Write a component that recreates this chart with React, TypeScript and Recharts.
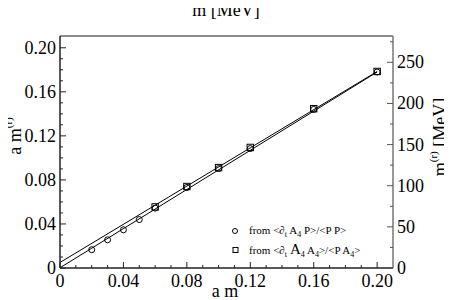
import { ScatterChart, Scatter, XAxis, YAxis } from "recharts";

// lattice mass a*m vs renormalised mass a*m^(r)
const amCircle = [0.02, 0.03, 0.04, 0.05, 0.06, 0.08, 0.1, 0.12, 0.16, 0.2];
const amrCircle = [0.0166, 0.0256, 0.0347, 0.044, 0.0544, 0.0732, 0.0903, 0.1085, 0.144, 0.178];
const amSquare = [0.06, 0.08, 0.1, 0.12, 0.16, 0.2];
const amrSquare = [0.0555, 0.074, 0.0912, 0.1095, 0.1447, 0.1785];

// straight-line fits, end points
const fitX = [0, 0.2];
const fitCircle = [0.0002, 0.178];
const fitSquare = [0.005, 0.1785];

const amTicks = [0, 0.04, 0.08, 0.12, 0.16, 0.2];
const amMinor = [0.01, 0.02, 0.03, 0.05, 0.06, 0.07, 0.09, 0.1, 0.11, 0.13, 0.14, 0.15, 0.17, 0.18, 0.19];
const mevTicks = [0, 50, 100, 150, 200, 250];
const mevMinor = [25, 75, 125, 175, 225, 275];

const W = 452;
const H = 300;
const PLOT = { left: 60, right: 393, top: 36, bottom: 268 };
const FONT = "'Liberation Serif', 'Times New Roman', serif";
const serif = { fontFamily: FONT };

const circles = amCircle.map((x, i) => ({ x, y: amrCircle[i] }));
const squares = amSquare.map((x, i) => ({ x, y: amrSquare[i] }));
const lineC = fitX.map((x, i) => ({ x, y: fitCircle[i] }));
const lineS = fitX.map((x, i) => ({ x, y: fitSquare[i] }));

const isMajor = (v: number, majors: number[]) => majors.some((m) => Math.abs(m - v) < 1e-9);
const fmtAm = (v: number) => (v === 0 ? "0" : v.toFixed(2));
const fmtMev = (v: number) => String(v);

function makeTick(side: "bottom" | "top" | "left" | "right", majors: number[], fmt: (v: number) => string, color: string) {
  return (props: any) => {
    const { x, y, payload } = props;
    const v = payload.value;
    const major = isMajor(v, majors);
    const len = major ? 6 : 3;
    let line;
    let label = null;
    const ts = { style: serif, fontSize: 18, fill: "#000" };
    if (side === "bottom") {
      line = <line x1={x} x2={x} y1={PLOT.bottom} y2={PLOT.bottom - len} stroke={color} />;
      if (major) label = <text x={x} y={PLOT.bottom + 19} textAnchor="middle" {...ts}>{fmt(v)}</text>;
    } else if (side === "top") {
      line = <line x1={x} x2={x} y1={PLOT.top} y2={PLOT.top + len} stroke={color} />;
      if (major) label = <text x={x} y={PLOT.top - 3} textAnchor="middle" {...ts}>{fmt(v)}</text>;
    } else if (side === "left") {
      line = <line x1={PLOT.left} x2={PLOT.left + len} y1={y} y2={y} stroke={color} />;
      if (major) label = <text x={PLOT.left - 4} y={y + 6} textAnchor="end" {...ts}>{fmt(v)}</text>;
    } else {
      line = <line x1={PLOT.right} x2={PLOT.right - len} y1={y} y2={y} stroke={color} />;
      if (major) label = <text x={PLOT.right + 4} y={y + 6} textAnchor="start" {...ts}>{fmt(v)}</text>;
    }
    return (
      <g>
        {line}
        {label}
      </g>
    );
  };
}

const CircleDot = (p: any) => <circle cx={p.cx} cy={p.cy} r={3} fill="none" stroke="#000" strokeWidth={1} />;
const SquareDot = (p: any) => (
  <rect x={p.cx - 3.2} y={p.cy - 3.2} width={6.4} height={6.4} fill="none" stroke="#000" strokeWidth={1} />
);
const NoDot = () => <g />;

export default function App() {
  return (
    <div style={{ position: "relative", width: W, height: H, marginLeft: -8, marginTop: -8 }}>
      <ScatterChart width={W} height={H} margin={{ top: 16, right: 19, bottom: 12, left: 20 }}>
        <XAxis
          xAxisId="b"
          dataKey="x"
          type="number"
          domain={[0, 0.21]}
          allowDataOverflow
          ticks={[...amTicks, ...amMinor]}
          interval={0}
          tickLine={false}
          tick={makeTick("bottom", amTicks, fmtAm, "#222")}
          axisLine={{ stroke: "#222", strokeWidth: 1.5 }}
          height={20}
        />
        <XAxis
          xAxisId="t"
          orientation="top"
          type="number"
          domain={[0, 278]}
          allowDataOverflow
          ticks={[...mevTicks, ...mevMinor]}
          interval={0}
          tickLine={false}
          tick={makeTick("top", mevTicks, fmtMev, "#555")}
          axisLine={{ stroke: "#666", strokeWidth: 1.5 }}
          height={20}
        />
        <YAxis
          yAxisId="l"
          dataKey="y"
          type="number"
          domain={[0, 0.2107]}
          allowDataOverflow
          ticks={[...amTicks, ...amMinor]}
          interval={0}
          tickLine={false}
          tick={makeTick("left", amTicks, fmtAm, "#222")}
          axisLine={{ stroke: "#222", strokeWidth: 1.5 }}
          width={40}
        />
        <YAxis
          yAxisId="r"
          orientation="right"
          type="number"
          domain={[0, 282]}
          allowDataOverflow
          ticks={[...mevTicks, ...mevMinor]}
          interval={0}
          tickLine={false}
          tick={makeTick("right", mevTicks, fmtMev, "#555")}
          axisLine={{ stroke: "#777", strokeWidth: 1.5 }}
          width={40}
        />
        <Scatter xAxisId="b" yAxisId="l" data={lineC} line={{ stroke: "#000", strokeWidth: 1 }} shape={NoDot} isAnimationActive={false} />
        <Scatter xAxisId="b" yAxisId="l" data={lineS} line={{ stroke: "#000", strokeWidth: 1 }} shape={NoDot} isAnimationActive={false} />
        <Scatter xAxisId="b" yAxisId="l" data={circles} shape={CircleDot} isAnimationActive={false} />
        <Scatter xAxisId="b" yAxisId="l" data={squares} shape={SquareDot} isAnimationActive={false} />
      </ScatterChart>
      <svg
        width={W}
        height={H}
        style={{ position: "absolute", left: 0, top: 0, pointerEvents: "none", fontFamily: FONT }}
      >
        <text x={226} y={16} textAnchor="middle" fontSize={18}>m [MeV]</text>
        <text x={225} y={297} textAnchor="middle" fontSize={18}>a m</text>
        <text transform="translate(21,136) rotate(-90)" textAnchor="middle" fontSize={18}>
          a m<tspan fontSize={11} dy={-9}>(r)</tspan>
        </text>
        <text transform="translate(446,137) rotate(-90)" textAnchor="middle" fontSize={18}>
          m<tspan fontSize={11} dy={-9}>(r)</tspan>
          <tspan dy={9}> [MeV]</tspan>
        </text>
        <circle cx={235} cy={231} r={2.5} fill="none" stroke="#000" strokeWidth={1} />
        <text x={249} y={233.5} fontSize={11}>
          from {"<"}∂<tspan fontSize={8} dy={3}>t</tspan>
          <tspan dy={-3}> A</tspan>
          <tspan fontSize={8} dy={3}>4</tspan>
          <tspan dy={-3}> P{">"}/{"<"}P P{">"}</tspan>
        </text>
        <rect x={233} y={247.5} width={5} height={5} fill="none" stroke="#000" strokeWidth={1} />
        <text x={249} y={253.5} fontSize={11}>
          from {"<"}∂<tspan fontSize={8} dy={3}>t</tspan>
          <tspan dy={-3} fontSize={15}> A</tspan>
          <tspan fontSize={8} dy={3}>4</tspan>
          <tspan dy={-3}> A</tspan>
          <tspan fontSize={8} dy={3}>4</tspan>
          <tspan dy={-3}>{">"}/{"<"}P A</tspan>
          <tspan fontSize={8} dy={3}>4</tspan>
          <tspan dy={-3}>{">"}</tspan>
        </text>
      </svg>
    </div>
  );
}
